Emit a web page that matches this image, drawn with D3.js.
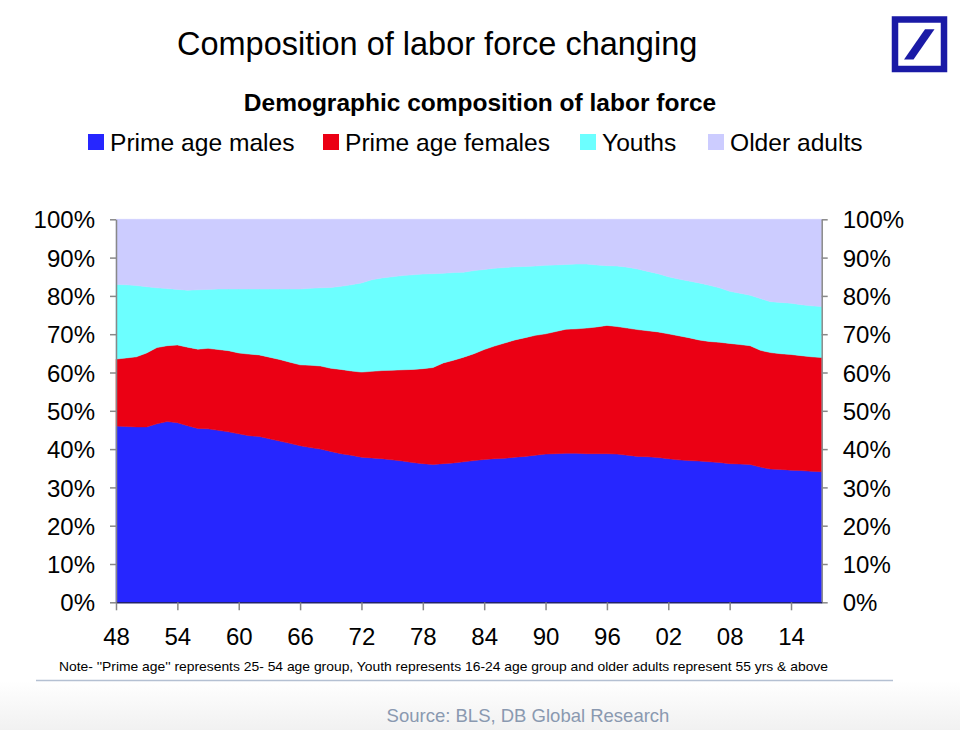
<!DOCTYPE html>
<html>
<head>
<meta charset="utf-8">
<script src="https://cdn.jsdelivr.net/npm/d3@7"></script>
<style>
  html, body { margin: 0; padding: 0; background: #ffffff; }
  svg { display: block; font-family: "Liberation Sans", Arial, Helvetica, sans-serif; }
</style>
</head>
<body>
<svg id="chart" width="960" height="730"></svg>
<script>
// ---------------- DATA ----------------
const years = [
  1948,1949,1950,1951,1952,1953,1954,1955,1956,1957,1958,1959,
  1960,1961,1962,1963,1964,1965,1966,1967,1968,1969,
  1970,1971,1972,1973,1974,1975,1976,1977,1978,1979,
  1980,1981,1982,1983,1984,1985,1986,1987,1988,1989,
  1990,1991,1992,1993,1994,1995,1996,1997,1998,1999,
  2000,2001,2002,2003,2004,2005,2006,2007,2008,2009,
  2010,2011,2012,2013,2014,2015,2016,2017
];
// share of labor force, %
const primeAgeMales = [
  46.0,45.9,45.8,45.8,46.6,47.2,46.9,46.1,45.4,45.3,44.9,44.5,
  44.0,43.5,43.3,42.7,42.1,41.5,40.9,40.4,40.0,39.4,
  38.8,38.4,37.9,37.7,37.5,37.2,36.9,36.5,36.2,36.0,
  36.2,36.4,36.7,37.0,37.3,37.5,37.6,37.9,38.1,38.4,
  38.7,38.8,38.9,38.9,38.8,38.8,38.8,38.7,38.4,38.1,
  38.0,37.8,37.5,37.2,37.0,36.9,36.7,36.5,36.2,36.1,
  36.0,35.3,34.8,34.7,34.5,34.4,34.2,34.1
];
const primeAgeFemales = [
  17.5,17.9,18.3,19.3,19.9,19.8,20.3,20.5,20.7,21.0,21.1,21.2,
  21.1,21.3,21.3,21.3,21.3,21.2,21.1,21.5,21.7,21.7,
  22.0,22.0,22.2,22.6,23.0,23.4,23.8,24.3,24.8,25.3,
  26.3,26.8,27.3,27.9,28.7,29.4,30.1,30.6,31.0,31.3,
  31.4,31.9,32.4,32.5,32.8,33.1,33.5,33.3,33.2,33.1,
  32.9,32.8,32.6,32.4,32.1,31.6,31.4,31.4,31.4,31.2,
  31.0,30.5,30.4,30.2,30.2,30.0,29.9,29.8
];
const youths = [
  19.5,19.1,18.6,17.3,15.6,14.9,14.5,14.9,15.5,15.4,15.8,16.1,
  16.7,17.0,17.2,17.8,18.4,19.1,19.8,20.1,20.4,21.1,
  21.7,22.5,23.3,23.9,24.2,24.4,24.6,24.7,24.7,24.5,
  23.4,22.9,22.2,21.7,20.9,20.3,19.7,19.1,18.6,18.1,
  17.9,17.4,16.9,16.9,16.7,16.2,15.6,15.8,15.9,15.8,
  15.5,15.2,14.9,14.8,14.8,14.9,14.7,14.2,13.6,13.4,
  13.2,13.5,13.3,13.4,13.4,13.3,13.3,13.3
];
const olderAdults = [
  17.0,17.1,17.3,17.6,17.9,18.1,18.3,18.5,18.4,18.3,18.2,18.2,
  18.2,18.2,18.2,18.2,18.2,18.2,18.2,18.0,17.9,17.8,
  17.5,17.1,16.6,15.8,15.3,15.0,14.7,14.5,14.3,14.2,
  14.1,13.9,13.8,13.4,13.1,12.8,12.6,12.4,12.3,12.2,
  12.0,11.9,11.8,11.7,11.7,11.9,12.1,12.2,12.5,13.0,
  13.6,14.2,15.0,15.6,16.1,16.6,17.2,17.9,18.8,19.3,
  19.8,20.7,21.5,21.7,21.9,22.3,22.6,22.8
];
const seriesNames = ["Prime age males", "Prime age females", "Youths", "Older adults"];
const seriesColors = ["#2626ff", "#eb0014", "#6cffff", "#ccccff"];
const xTickYears = [1948,1954,1960,1966,1972,1978,1984,1990,1996,2002,2008,2014];
const xTickLabels = ["48","54","60","66","72","78","84","90","96","02","08","14"];
const yTicks = [0,10,20,30,40,50,60,70,80,90,100];

// ---------------- CHART ----------------
const svg = d3.select("#chart");
const keys = ["m", "f", "y", "o"];
const table = years.map((yr, i) => ({
  year: yr, m: primeAgeMales[i], f: primeAgeFemales[i], y: youths[i], o: olderAdults[i]
}));

const x = d3.scaleLinear().domain([1948, 2017]).range([116, 821.7]);
const y = d3.scaleLinear().domain([0, 100]).range([602.3, 219.3]);

// bottom gradient band
const defs = svg.append("defs");
const grad = defs.append("linearGradient").attr("id", "foot").attr("x1", 0).attr("y1", 0).attr("x2", 0).attr("y2", 1);
grad.append("stop").attr("offset", "0%").attr("stop-color", "#ffffff");
grad.append("stop").attr("offset", "100%").attr("stop-color", "#f1f1f1");
svg.append("rect").attr("x", 0).attr("y", 681).attr("width", 960).attr("height", 49).attr("fill", "url(#foot)");

const stack = d3.stack().keys(keys);
const stacked = stack(table);
const area = d3.area()
  .x(d => x(d.data.year))
  .y0(d => y(d[0]))
  .y1(d => y(d[1]))
  .curve(d3.curveLinear);

svg.append("g").selectAll("path")
  .data(stacked)
  .join("path")
  .attr("d", area)
  .attr("fill", (d, i) => seriesColors[i])
  .attr("stroke", (d, i) => seriesColors[i])
  .attr("stroke-width", 0.5);

// axes
const axisFont = 24;
const gL = svg.append("g").attr("transform", `translate(${x.range()[0]},0)`)
  .call(d3.axisLeft(y).tickValues(yTicks).tickFormat(d => d + "%").tickSize(6).tickSizeOuter(0).tickPadding(15));
const gR = svg.append("g").attr("transform", `translate(${x.range()[1]},0)`)
  .call(d3.axisRight(y).tickValues(yTicks).tickFormat(d => d + "%").tickSize(6).tickSizeOuter(0).tickPadding(15));
const gB = svg.append("g").attr("transform", `translate(0,${y(0)})`)
  .call(d3.axisBottom(x).tickValues(xTickYears).tickFormat((d, i) => xTickLabels[i]).tickSize(8).tickSizeOuter(0).tickPadding(18));

[gL, gR, gB].forEach(g => {
  g.selectAll("path.domain").attr("stroke", "#888888").attr("stroke-width", 1.5);
  g.selectAll(".tick line").attr("stroke", "#888888").attr("stroke-width", 1.5);
  g.selectAll("text").attr("font-size", axisFont).attr("fill", "#000")
    .attr("font-family", "Liberation Sans, Arial, sans-serif");
});
gL.selectAll("text").attr("dy", "0.36em");
gR.selectAll("text").attr("dy", "0.36em");
gB.select("path.domain").attr("stroke", "#22226a");

// titles
svg.append("text").attr("x", 177).attr("y", 55)
  .attr("font-size", 32.5).attr("fill", "#000")
  .text("Composition of labor force changing");
svg.append("text").attr("x", 480).attr("y", 111).attr("text-anchor", "middle")
  .attr("font-size", 24.5).attr("font-weight", "bold").attr("fill", "#000")
  .text("Demographic composition of labor force");

// legend
const legendX = [88, 323, 580, 708];
const lg = svg.append("g");
seriesNames.forEach((name, i) => {
  lg.append("rect").attr("x", legendX[i]).attr("y", 134).attr("width", 16).attr("height", 16)
    .attr("fill", seriesColors[i]);
  lg.append("text").attr("x", legendX[i] + 22).attr("y", 151)
    .attr("font-size", 24.6).attr("fill", "#000").text(name);
});

// note
svg.append("text").attr("x", 59).attr("y", 671)
  .attr("font-size", 13).attr("fill", "#000")
  .attr("textLength", 769).attr("lengthAdjust", "spacingAndGlyphs")
  .text("Note- ''Prime age'' represents 25- 54 age group, Youth represents 16-24 age  group and older  adults represent 55 yrs & above");

// separator line
svg.append("line").attr("x1", 36).attr("x2", 893).attr("y1", 680.5).attr("y2", 680.5)
  .attr("stroke", "#b4c0d2").attr("stroke-width", 1.5);

// source
svg.append("text").attr("x", 528).attr("y", 722).attr("text-anchor", "middle")
  .attr("font-size", 18.5).attr("fill", "#8a99b0")
  .text("Source: BLS, DB Global Research");

// logo
const logo = svg.append("g");
logo.append("rect").attr("x", 895).attr("y", 19.5).attr("width", 49).attr("height", 49.5)
  .attr("fill", "none").attr("stroke", "#1a1aa6").attr("stroke-width", 6.5);
logo.append("path").attr("d", "M904,59.5 L913.5,59.5 L934.5,29.3 L925,29.3 Z").attr("fill", "#1a1aa6");
</script>
</body>
</html>
